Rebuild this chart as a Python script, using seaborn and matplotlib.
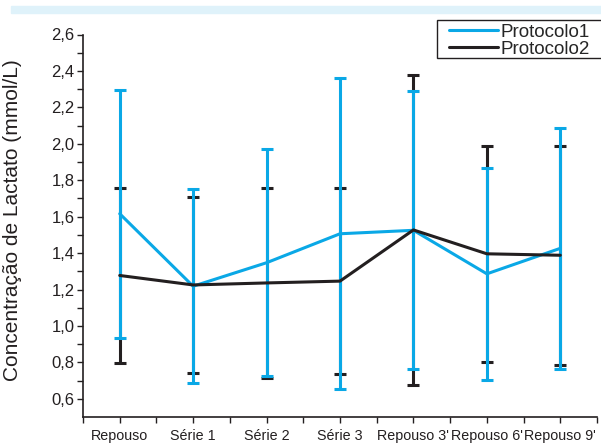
import matplotlib
matplotlib.use("Agg")
import matplotlib.pyplot as plt
import matplotlib.patches as mpatches
from matplotlib.ticker import FixedLocator
import seaborn as sns
import pandas as pd
import numpy as np

categories = ["Repouso", "Série 1", "Série 2", "Série 3", "Repouso 3'", "Repouso 6'", "Repouso 9'"]
p1_mean = [1.616, 1.218, 1.347, 1.506, 1.525, 1.286, 1.426]
p1_err = [0.682, 0.532, 0.623, 0.853, 0.763, 0.582, 0.661]
p2_mean = [1.277, 1.225, 1.236, 1.246, 1.527, 1.396, 1.388]
p2_err = [0.481, 0.484, 0.521, 0.511, 0.850, 0.592, 0.602]
series_names = ["Protocolo1", "Protocolo2"]

BLUE = "#0aa8e6"
DARK = "#231f20"

sns.set_theme(style="ticks")
plt.rcParams['font.family'] = ['Liberation Sans Narrow', 'Liberation Sans', 'DejaVu Sans']

df = pd.DataFrame({
    "x": list(range(len(categories))) * 2,
    "y": p1_mean + p2_mean,
    "Protocolo": [series_names[0]] * len(categories) + [series_names[1]] * len(categories),
})

W, H = 601, 443
fig = plt.figure(figsize=(W / 100, H / 100), dpi=100)
ax = fig.add_axes([83 / W, 26 / H, (597 - 83) / W, (417 - 34.5) / H])

# top decorative band
fig.patches.append(mpatches.Rectangle((11 / W, 1 - 13 / H), 1 - 11 / W, 7 / H,
                                      transform=fig.transFigure, color="#dff2fa", zorder=0))

xs = np.arange(len(categories))
ax.errorbar(xs, p2_mean, yerr=p2_err, fmt="none", ecolor=DARK, elinewidth=2.2,
            capsize=4.5, capthick=2.2, zorder=2)
ax.errorbar(xs, p1_mean, yerr=p1_err, fmt="none", ecolor=BLUE, elinewidth=2.2,
            capsize=4.5, capthick=2.2, zorder=3)

sns.lineplot(data=df, x="x", y="y", hue="Protocolo", palette=[BLUE, DARK],
             linewidth=2.2, ax=ax, legend=False, zorder=4)

ax.set_xlim(-0.5, 6.5)
ax.set_ylim(0.5, 2.6)
ax.set_xticks(xs)
ax.set_xticklabels(categories, fontsize=10.3)
ax.xaxis.set_minor_locator(FixedLocator(np.arange(-0.5, 6.6, 1.0)))
yt = np.round(np.arange(0.6, 2.61, 0.2), 1)
ax.set_yticks(yt)
ax.set_yticklabels([f"{v:.1f}".replace(".", ",") for v in yt], fontsize=12)
ax.yaxis.set_minor_locator(FixedLocator(np.round(np.arange(0.7, 2.51, 0.2), 1)))
ax.tick_params(axis="both", which="both", direction="out", length=4, width=1,
               color="#231f20", labelcolor="#231f20", pad=2)
ax.tick_params(axis="x", which="major", pad=4.5)
ax.set_xlabel("")
ax.set_ylabel("Concentração de Lactato (mmol/L)", fontsize=15, color="#231f20",
              family=['Liberation Sans', 'DejaVu Sans'])
ax.yaxis.set_label_coords((22 - 83) / 514, (417 - 220) / 382.5)
sns.despine(ax=ax)
for s in ["left", "bottom"]:
    ax.spines[s].set_color("#231f20")
    ax.spines[s].set_linewidth(1.2)

# legend box (extends past right edge as in reference)
fig.patches.append(mpatches.Rectangle((437 / W, 1 - 58 / H), 200 / W, 38 / H,
                                      transform=fig.transFigure, facecolor="white",
                                      edgecolor="#231f20", linewidth=1.0, zorder=5))
handles = [plt.Line2D([], [], color=BLUE, lw=2.2), plt.Line2D([], [], color=DARK, lw=2.2)]
leg = fig.legend(handles, series_names, loc="upper left",
                 bbox_to_anchor=(449 / W, 1 - 23.5 / H), frameon=False,
                 fontsize=13.5, handlelength=2.6, handletextpad=0.15, borderpad=0.0,
                 labelspacing=0.0, borderaxespad=0)
leg.set_zorder(6)

fig.savefig("out.png", dpi=100)
